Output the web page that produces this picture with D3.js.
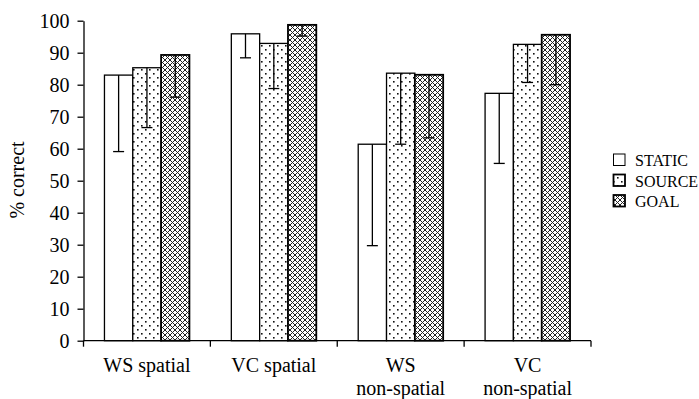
<!DOCTYPE html>
<html><head><meta charset="utf-8">
<script src="https://cdn.jsdelivr.net/npm/d3@7"></script>
<style>html,body{margin:0;padding:0;background:#fff;}svg{display:block;}
svg text{font-family:"Liberation Serif","Tinos","Times New Roman","DejaVu Serif",serif !important;}</style>
</head><body>
<svg id="chart" width="699" height="399"></svg>
<script>
const categories = [["WS spatial"], ["VC spatial"], ["WS", "non-spatial"], ["VC", "non-spatial"]];
const seriesNames = ["STATIC", "SOURCE", "GOAL"];
const staticVals = [83.0, 95.9, 61.4, 77.3];
const sourceVals = [85.3, 92.9, 83.6, 92.6];
const goalVals = [89.3, 98.7, 83.1, 95.6];
const staticErr = [23.9, 7.5, 31.7, 21.9];
const sourceErr = [18.7, 14.1, 22.2, 11.9];
const goalErr = [13.2, 3.5, 19.7, 15.6];
const yTicks = [0, 10, 20, 30, 40, 50, 60, 70, 80, 90, 100];
const yLabel = "% correct";

const svg = d3.select("#chart");
const defs = svg.append("defs");
const dots = defs.append("pattern").attr("id", "dots").attr("patternUnits", "userSpaceOnUse").attr("width", 8).attr("height", 8);
dots.append("rect").attr("width", 8).attr("height", 8).attr("fill", "#fff");
dots.append("rect").attr("x", 1).attr("y", 1).attr("width", 1.6).attr("height", 1.6).attr("fill", "#111");
dots.append("rect").attr("x", 5).attr("y", 5).attr("width", 1.6).attr("height", 1.6).attr("fill", "#111");
const hatch = defs.append("pattern").attr("id", "hatch").attr("patternUnits", "userSpaceOnUse").attr("width", 5).attr("height", 5);
hatch.append("rect").attr("width", 5).attr("height", 5).attr("fill", "#fff");
hatch.append("path").attr("d", "M-1,-1L6,6M6,-1L-1,6").attr("stroke", "#222").attr("stroke-width", 1);

const fills = {STATIC: "#fff", SOURCE: "url(#dots)", GOAL: "url(#hatch)"};
const seriesVals = {STATIC: staticVals, SOURCE: sourceVals, GOAL: goalVals};
const seriesErr = {STATIC: staticErr, SOURCE: sourceErr, GOAL: goalErr};

const x0 = d3.scaleBand().domain(d3.range(categories.length)).range([83.5, 591]).paddingInner(0).paddingOuter(0);
const x1 = d3.scaleBand().domain(seriesNames).range([0, x0.bandwidth()]).paddingInner(0).paddingOuter(0.74);
const y = d3.scaleLinear().domain([0, 100]).range([340.7, 20.7]);

const g = svg.append("g");
categories.forEach((c, i) => {
  seriesNames.forEach(s => {
    const v = seriesVals[s][i];
    g.append("rect")
      .attr("x", x0(i) + x1(s)).attr("y", y(v))
      .attr("width", x1.bandwidth()).attr("height", y(0) - y(v))
      .attr("fill", fills[s]).attr("stroke", "#000").attr("stroke-width", s === "GOAL" ? 1.8 : 1.3);
  });
});
categories.forEach((c, i) => {
  seriesNames.forEach(s => {
    const v = seriesVals[s][i], e = seriesErr[s][i];
    const cx = x0(i) + x1(s) + x1.bandwidth() / 2;
    g.append("line").attr("x1", cx).attr("x2", cx).attr("y1", y(v)).attr("y2", y(v - e)).attr("stroke", "#000").attr("stroke-width", 1.3);
    g.append("line").attr("x1", cx - 5.5).attr("x2", cx + 5.5).attr("y1", y(v - e)).attr("y2", y(v - e)).attr("stroke", "#000").attr("stroke-width", 1.3);
  });
});

const yAxis = svg.append("g").attr("transform", "translate(83.5,0)")
  .call(d3.axisLeft(y).tickValues(yTicks).tickSize(6).tickPadding(8).tickSizeOuter(0));
yAxis.attr("font-family", null);
yAxis.select(".domain").attr("stroke", "#000").attr("stroke-width", 1.3);
yAxis.selectAll(".tick line").attr("stroke", "#000").attr("stroke-width", 1.3);
yAxis.selectAll(".tick text").attr("font-size", 20).attr("fill", "#000");

const xAxis = svg.append("g").attr("transform", "translate(0,340.7)");
xAxis.append("line").attr("x1", x0.range()[0]).attr("x2", x0.range()[1]).attr("stroke", "#000").attr("stroke-width", 1.3);
const bounds = d3.range(categories.length + 1).map(i => i < categories.length ? x0(i) : x0.range()[1]);
xAxis.selectAll(".xt").data(bounds).join("line").attr("x1", d => d).attr("x2", d => d).attr("y1", 0).attr("y2", 6).attr("stroke", "#000").attr("stroke-width", 1.3);
categories.forEach((lines, i) => {
  const t = xAxis.append("text").attr("x", x0(i) + x0.bandwidth() / 2).attr("y", 31)
    .attr("text-anchor", "middle").attr("font-size", 20).attr("fill", "#000");
  lines.forEach((ln, j) => t.append("tspan").attr("x", x0(i) + x0.bandwidth() / 2).attr("dy", j === 0 ? 0 : 23.5).text(ln));
});

svg.append("text").attr("transform", "translate(24,180) rotate(-90)").attr("text-anchor", "middle")
  .attr("font-size", 20).attr("fill", "#000").text(yLabel);

const leg = svg.append("g");
seriesNames.forEach((s, i) => {
  const yy = 154 + i * 20.5;
  leg.append("rect").attr("x", 613.5).attr("y", yy).attr("width", 11.5).attr("height", 11.5)
    .attr("fill", fills[s]).attr("stroke", "#000").attr("stroke-width", s === "STATIC" ? 1 : 1.8);
  leg.append("text").attr("x", 635).attr("y", yy + 12).attr("font-size", 16).attr("fill", "#000").text(s);
});
</script>
</body></html>
